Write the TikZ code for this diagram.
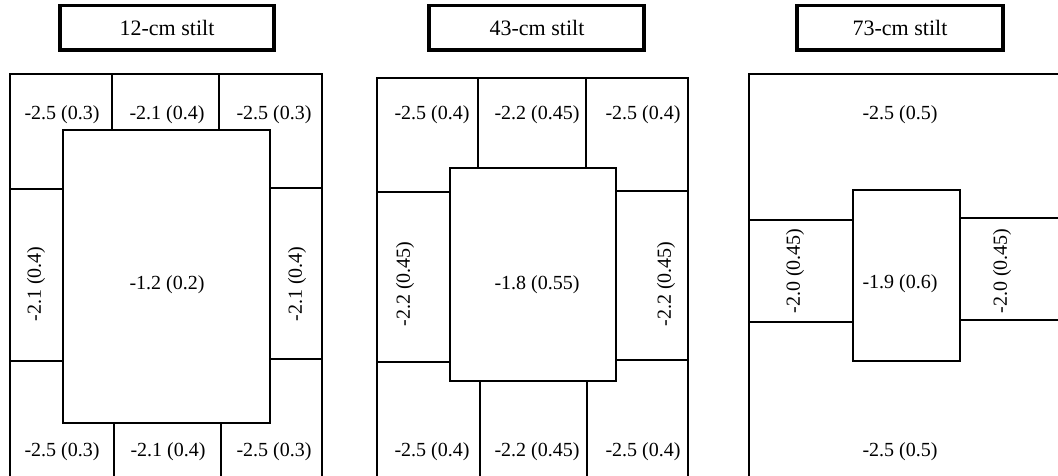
\documentclass[tikz,border=0pt]{standalone}
\usepackage{fontspec}
\setmainfont{Liberation Serif}
\begin{document}
\begin{tikzpicture}[x=1pt,y=-1pt,
  ln/.style={line width=2pt, line cap=rect},
  titlebox/.style={draw, line width=3pt},
  thickedge/.style={line width=4pt, line cap=rect},
  lbl/.style={inner sep=0pt, font=\fontsize{20}{24}\selectfont},
  ttl/.style={inner sep=0pt, font=\fontsize{22}{26}\selectfont},
  rlbl/.style={lbl, rotate=90}]
\useasboundingbox (0,0) rectangle (1058,476);
\clip (0,0) rectangle (1058,476);
\fill[white] (0,0) rectangle (1058,476);

% ---------- Panel 1: 12-cm stilt ----------
\draw[titlebox] (60,6) rectangle (274,50);
\draw[thickedge] (60,6) -- (60,50) -- (274,50) -- (274,6);
\node[ttl] (t1) at (167,28) {12-cm stilt};
\draw[ln] (10,500) -- (10,74) -- (322,74) -- (322,500);
\draw[ln] (112,74) -- (112,130);
\draw[ln] (219,74) -- (219,130);
\draw[ln] (63,130) rectangle (270,423);
\draw[ln] (10,189) -- (63,189);
\draw[ln] (10,361) -- (63,361);
\draw[ln] (270,188) -- (322,188);
\draw[ln] (270,359) -- (322,359);
\draw[ln] (114,423) -- (114,500);
\draw[ln] (221,423) -- (221,500);
\node[lbl] (a1) at (62,115) {-2.5 (0.3)};
\node[lbl] (a2) at (167,115) {-2.1 (0.4)};
\node[lbl] (a3) at (274,115) {-2.5 (0.3)};
\node[lbl] (a4) at (62,452) {-2.5 (0.3)};
\node[lbl] (a5) at (168,452) {-2.1 (0.4)};
\node[lbl] (a6) at (274,452) {-2.5 (0.3)};
\node[lbl] (a7) at (167,285) {-1.2 (0.2)};
\node[rlbl] (a8) at (36,284) {-2.1 (0.4)};
\node[rlbl] (a9) at (297,284) {-2.1 (0.4)};

% ---------- Panel 2: 43-cm stilt ----------
\draw[titlebox] (429,6) rectangle (644,50);
\draw[thickedge] (429,6) -- (429,50) -- (644,50) -- (644,6);
\node[ttl] (t2) at (537,28) {43-cm stilt};
\draw[ln] (377,500) -- (377,78) -- (688,78) -- (688,500);
\draw[ln] (478,78) -- (478,168);
\draw[ln] (586,78) -- (586,168);
\draw[ln] (450,168) rectangle (616,381);
\draw[ln] (377,192) -- (450,192);
\draw[ln] (377,362) -- (450,362);
\draw[ln] (616,191) -- (688,191);
\draw[ln] (616,360) -- (688,360);
\draw[ln] (480,381) -- (480,500);
\draw[ln] (587,381) -- (587,500);
\node[lbl] (b1) at (432,115) {-2.5 (0.4)};
\node[lbl] (b2) at (537,115) {-2.2 (0.45)};
\node[lbl] (b3) at (643,115) {-2.5 (0.4)};
\node[lbl] (b4) at (432,452) {-2.5 (0.4)};
\node[lbl] (b5) at (537,452) {-2.2 (0.45)};
\node[lbl] (b6) at (643,452) {-2.5 (0.4)};
\node[lbl] (b7) at (537,285) {-1.8 (0.55)};
\node[rlbl] (b8) at (405,284) {-2.2 (0.45)};
\node[rlbl] (b9) at (666,284) {-2.2 (0.45)};

% ---------- Panel 3: 73-cm stilt ----------
\draw[titlebox] (797,6) rectangle (1003,50);
\draw[thickedge] (797,6) -- (797,50) -- (1003,50) -- (1003,6);
\node[ttl] (t3) at (900,28) {73-cm stilt};
\draw[ln] (749,500) -- (749,74) -- (1080,74);
\draw[ln] (853,190) rectangle (960,361);
\draw[ln] (749,220) -- (853,220);
\draw[ln] (749,322) -- (853,322);
\draw[ln] (960,218) -- (1080,218);
\draw[ln] (960,320) -- (1080,320);
\node[lbl] (c1) at (900,115) {-2.5 (0.5)};
\node[lbl] (c2) at (900,452) {-2.5 (0.5)};
\node[lbl] (c3) at (900,284) {-1.9 (0.6)};
\node[rlbl] (c4) at (795,271) {-2.0 (0.45)};
\node[rlbl] (c5) at (1002,271) {-2.0 (0.45)};
\end{tikzpicture}
\end{document}
